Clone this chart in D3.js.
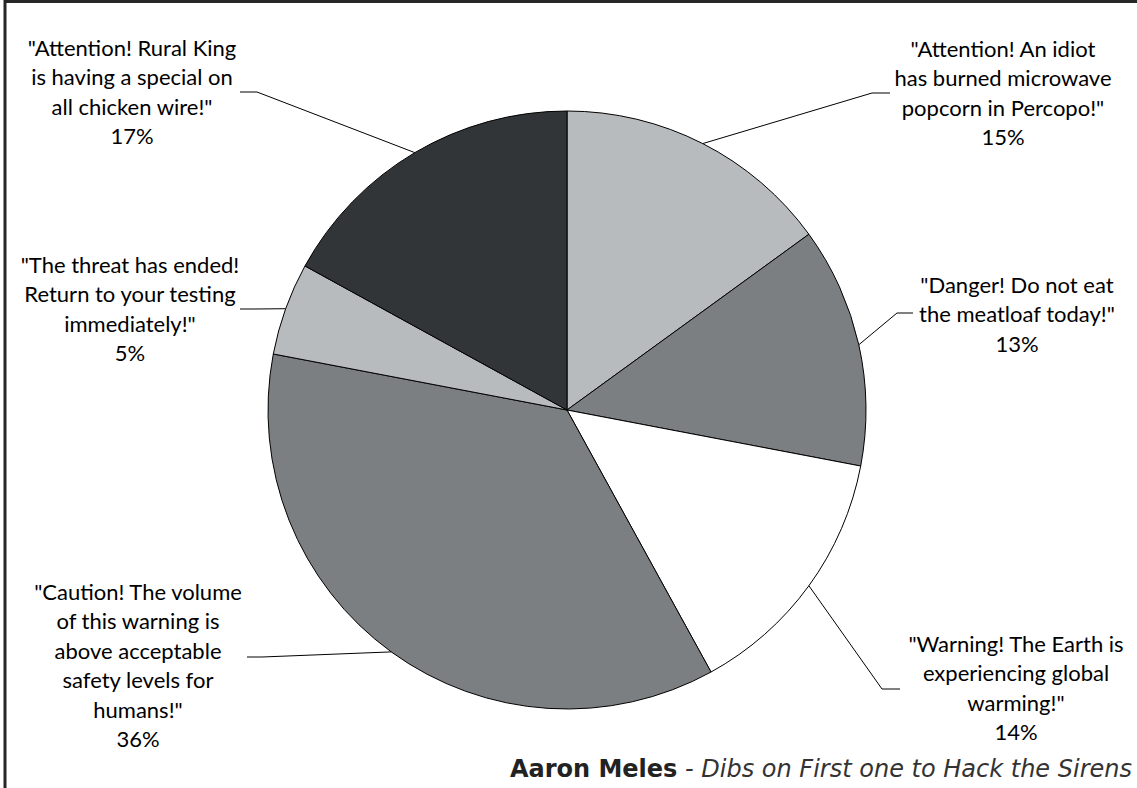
<!DOCTYPE html>
<html><head><meta charset="utf-8">
<script src="https://cdn.jsdelivr.net/npm/d3@7"></script>
<style>html,body{margin:0;padding:0;background:#fff;}svg{display:block;}</style>
</head><body>
<script>
// ---- data ----
const values = [15, 13, 14, 36, 5, 17];
const labelLines = [
  ['"Attention! An idiot', 'has burned microwave', 'popcorn in Percopo!"'],
  ['"Danger! Do not eat', 'the meatloaf today!"'],
  ['"Warning! The Earth is', 'experiencing global', 'warming!"'],
  ['"Caution! The volume', 'of this warning is', 'above acceptable', 'safety levels for', 'humans!"'],
  ['"The threat has ended!', 'Return to your testing', 'immediately!"'],
  ['"Attention! Rural King', 'is having a special on', 'all chicken wire!"']
];
const footerBold = 'Aaron Meles';
const footerItalic = ' - Dibs on First one to Hack the Sirens';

// ---- layout / style ----
const W = 1137, H = 788;
const cx = 567, cy = 410, R = 299;
const colors = ['#b8bbbd', '#7b7f82', '#ffffff', '#7b7f82', '#b8bbbd', '#313538'];
const lineH = 29.5;
const labelPos = [ // [centerX, firstLineY]
  [1003, 49], [1017, 285], [1016, 644], [138, 592], [130, 265], [132, 48]
];
const leaderElbow = [ // [elbowX, elbowY, endX]
  [872, 93, 890], [897, 313, 913], [882, 689, 900], [262, 657, 247], [255, 309, 240], [257, 92, 240]
];

const svg = d3.select('body').append('svg').attr('width', W).attr('height', H);
svg.append('rect').attr('width', W).attr('height', H).attr('fill', '#fff');
svg.append('rect').attr('x', 5).attr('y', 1.5).attr('width', W + 20).attr('height', H + 20)
  .attr('fill', 'none').attr('stroke', '#262626').attr('stroke-width', 3);

const pie = d3.pie().sort(null).value(d => d);
const arcs = pie(values);
const arc = d3.arc().innerRadius(0).outerRadius(R);
const edge = d3.arc().innerRadius(R).outerRadius(R);

const g = svg.append('g').attr('transform', `translate(${cx},${cy})`);
g.selectAll('path.slice').data(arcs).join('path')
  .attr('class', 'slice')
  .attr('d', arc)
  .attr('fill', (d, i) => colors[i])
  .attr('stroke', '#000').attr('stroke-width', 1).attr('stroke-linejoin', 'round');

// leaders
svg.selectAll('path.leader').data(arcs).join('path')
  .attr('class', 'leader')
  .attr('fill', 'none').attr('stroke', '#000').attr('stroke-width', 1)
  .attr('d', (d, i) => {
    const [px, py] = edge.centroid(d);
    const [ex, ey, endX] = leaderElbow[i];
    return d3.line()([[cx + px, cy + py], [ex, ey], [endX, ey]]);
  });

// labels
arcs.forEach((d, i) => {
  const lines = labelLines[i].concat([d3.format('.0%')(d.data / 100)]);
  const t = svg.append('text')
    .attr('font-family', 'Lato, "Open Sans", sans-serif')
    .attr('font-size', 22).attr('fill', '#000').attr('text-anchor', 'middle');
  lines.forEach((ln, k) => {
    t.append('tspan').attr('x', labelPos[i][0]).attr('y', labelPos[i][1] + k * lineH)
      .attr('dy', '0.36em').text(ln);
  });
});

// footer
const ft = svg.append('text').attr('x', 1132).attr('y', 777)
  .attr('text-anchor', 'end')
  .attr('font-family', '"DejaVu Sans", Verdana, sans-serif')
  .attr('font-size', 24).attr('fill', '#222');
ft.append('tspan').attr('font-weight', 'bold').text(footerBold);
ft.append('tspan').attr('font-style', 'italic').attr('fill', '#333').text(footerItalic);
</script>
</body></html>
